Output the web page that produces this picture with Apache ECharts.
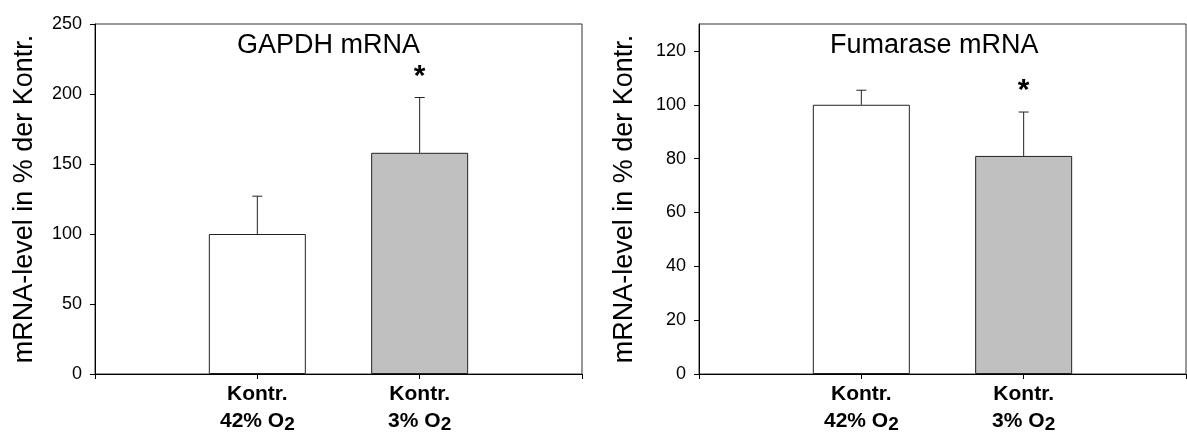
<!DOCTYPE html>
<html><head><meta charset="utf-8">
<script src="https://cdn.jsdelivr.net/npm/echarts@6/dist/echarts.min.js"></script>
<style>html,body{margin:0;padding:0;background:#fff}#c{width:1187px;height:432px}</style>
</head><body><div id="c"></div>
<script>
// ---- data ----
const categoryTop = ['Kontr.', 'Kontr.'];
const categoryBottom = ['42% O', '3% O'];
const categorySub = ['2', '2'];
const categoryPos = [1, 2];
const gapdhMean = [100, 158];
const gapdhErrUp = [27, 39.5];
const fumMean = [100, 81];
const fumErrUp = [5.4, 16.3];
const significant = [false, true];
const gapdhTicks = [0, 50, 100, 150, 200, 250];
const fumTicks = [0, 20, 40, 60, 80, 100, 120];
const titles = ['GAPDH mRNA', 'Fumarase mRNA'];
const yName = 'mRNA-level in % der Kontr.';

const FONT = 'Liberation Sans, Arial, Helvetica, sans-serif';
const fills = ['#ffffff', '#c0c0c0'];

const chart = echarts.init(document.getElementById('c'));

function xAxis(gi) {
  return {
    type: 'value', gridIndex: gi, min: 0, max: 3, interval: 1,
    axisLine: { show: true, onZero: false, lineStyle: { color: '#000', width: 1 } },
    axisTick: { show: true, length: 5, lineStyle: { color: '#000' } },
    splitLine: { show: false },
    axisLabel: {
      customValues: categoryPos,
      margin: 7,
      formatter: function (v) {
        const i = categoryPos.indexOf(v);
        if (i < 0) return '';
        return '{b|' + categoryTop[i] + '}\n{b|' + categoryBottom[i] + '}{s|' + categorySub[i] + '}';
      },
      rich: {
        b: { fontFamily: FONT, fontWeight: 'bold', fontSize: 21, lineHeight: 27, color: '#000' },
        s: { fontFamily: FONT, fontWeight: 'bold', fontSize: 19, lineHeight: 19, color: '#000', padding: [7, 0, 0, 0] }
      }
    }
  };
}
function yAxis(gi, max, interval, ticks, gap) {
  return {
    type: 'value', gridIndex: gi, min: 0, max: max, interval: interval,
    name: yName, nameLocation: 'middle', nameRotate: 90, nameGap: gap,
    nameTextStyle: { fontFamily: FONT, fontSize: 27, color: '#000' },
    axisLine: { show: true, lineStyle: { color: '#000', width: 1 } },
    axisTick: { show: true, length: 5, customValues: ticks, lineStyle: { color: '#000' } },
    axisLabel: { customValues: ticks, margin: 13, fontFamily: FONT, fontSize: 18, color: '#000' },
    splitLine: { show: false }
  };
}
function barSeries(gi, mean) {
  return {
    type: 'bar', xAxisIndex: gi, yAxisIndex: gi, barWidth: 97,
    data: mean.map((v, i) => ({ value: [categoryPos[i], v], itemStyle: { color: fills[i] } })),
    itemStyle: { borderColor: '#222', borderWidth: 1 },
    silent: true, animation: false
  };
}
function errSeries(gi, mean, err) {
  return {
    type: 'custom', xAxisIndex: gi, yAxisIndex: gi, clip: false, animation: false, silent: true,
    encode: { x: 0, y: [1, 2] },
    data: mean.map((v, i) => [categoryPos[i], v, v + err[i], significant[i] ? 1 : 0]),
    renderItem: function (params, api) {
      const x = api.value(0);
      const p0 = api.coord([x, api.value(1)]);
      const p1 = api.coord([x, api.value(2)]);
      const st = { stroke: '#222', lineWidth: 1 };
      const children = [
        { type: 'line', shape: { x1: p0[0], y1: p0[1], x2: p1[0], y2: p1[1] }, style: st },
        { type: 'line', shape: { x1: p1[0] - 5, y1: p1[1], x2: p1[0] + 5, y2: p1[1] }, style: st }
      ];
      if (api.value(3)) {
        children.push({ type: 'text', x: p1[0], y: p1[1] - 21,
          style: { text: '*', fontFamily: FONT, fontWeight: 'bold', fontSize: 30, fill: '#000', align: 'center', verticalAlign: 'middle' } });
      }
      return { type: 'group', children: children };
    }
  };
}

chart.setOption({
  animation: false,
  backgroundColor: '#fff',
  title: [
    { text: titles[0], left: 237, top: 32, padding: 0, textStyle: { fontFamily: FONT, fontSize: 27, fontWeight: 'normal', color: '#000' } },
    { text: titles[1], left: 830, top: 32, padding: 0, textStyle: { fontFamily: FONT, fontSize: 27, fontWeight: 'normal', color: '#000' } }
  ],
  grid: [
    { left: 95, top: 24, width: 487, height: 350, show: true, borderColor: '#333', borderWidth: 1, containLabel: false, outerBoundsMode: 'none' },
    { left: 699, top: 24, width: 487, height: 350, show: true, borderColor: '#333', borderWidth: 1, containLabel: false, outerBoundsMode: 'none' }
  ],
  xAxis: [xAxis(0), xAxis(1)],
  yAxis: [yAxis(0, 250, 50, gapdhTicks, 57), yAxis(1, 130, 20, fumTicks, 61)],
  series: [barSeries(0, gapdhMean), errSeries(0, gapdhMean, gapdhErrUp), barSeries(1, fumMean), errSeries(1, fumMean, fumErrUp)]
});
</script></body></html>
